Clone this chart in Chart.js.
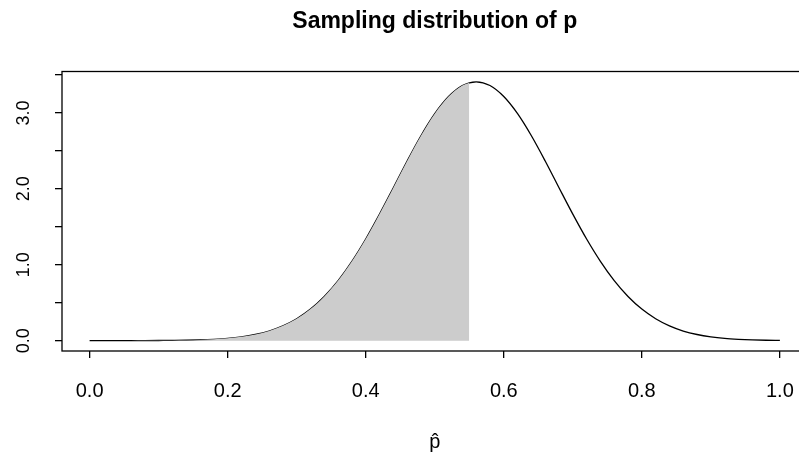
<!DOCTYPE html>
<html>
<head>
<meta charset="utf-8">
<script src="https://cdn.jsdelivr.net/npm/chart.js@4.4.0/dist/chart.umd.min.js"></script>
<style>
  html, body { margin: 0; padding: 0; background: #fff; overflow: hidden; width: 799px; height: 456px; }
  canvas { display: block; }
</style>
</head>
<body>
<canvas id="chart" width="810" height="456"></canvas>
<script>
// values
const pHat = [0.00, 0.02, 0.04, 0.06, 0.08, 0.10, 0.12, 0.14, 0.16, 0.18,
              0.20, 0.22, 0.24, 0.26, 0.28, 0.30, 0.32, 0.34, 0.36, 0.38,
              0.40, 0.42, 0.44, 0.46, 0.48, 0.50, 0.52, 0.54, 0.56, 0.58,
              0.60, 0.62, 0.64, 0.66, 0.68, 0.70, 0.72, 0.74, 0.76, 0.78,
              0.80, 0.82, 0.84, 0.86, 0.88, 0.90, 0.92, 0.94, 0.96, 0.98, 1.00];
const density = [0.000, 0.000, 0.000, 0.000, 0.001, 0.002, 0.003, 0.005, 0.010, 0.018,
                 0.030, 0.050, 0.081, 0.127, 0.195, 0.289, 0.416, 0.582, 0.791, 1.045,
                 1.339, 1.667, 2.015, 2.367, 2.699, 2.990, 3.216, 3.361, 3.410, 3.361,
                 3.216, 2.990, 2.699, 2.367, 2.015, 1.667, 1.339, 1.045, 0.791, 0.582,
                 0.416, 0.289, 0.195, 0.127, 0.081, 0.050, 0.030, 0.018, 0.010, 0.005, 0.003];
const cutoff = 0.55;
const cutoffDensity = 3.398;

const xTicks = [0, 0.2, 0.4, 0.6, 0.8, 1.0];
const xTickLabels = ['0.0', '0.2', '0.4', '0.6', '0.8', '1.0'];
const yTicks = [0, 0.5, 1, 1.5, 2, 2.5, 3, 3.5];
const yTickLabels = ['0.0', '', '1.0', '', '2.0', '', '3.0', ''];

const titleText = 'Sampling distribution of p';
const xTitle = 'p\u0302';

const curve = pHat.map((x, i) => ({ x, y: density[i] }));
const shade = curve.filter(pt => pt.x < cutoff);
shade.push({ x: cutoff, y: cutoffDensity });

const font = '"Liberation Sans", Arial, Helvetica, sans-serif';

// box, tick labels and titles, R style
const baseGraphics = {
  id: 'baseGraphics',
  afterDraw(chart) {
    const { ctx, chartArea: a, scales: { x, y } } = chart;
    ctx.save();
    ctx.strokeStyle = '#000';
    ctx.lineWidth = 1.3;
    ctx.strokeRect(a.left, a.top, a.right - a.left, a.bottom - a.top);

    ctx.fillStyle = '#000';
    ctx.textAlign = 'center';
    ctx.textBaseline = 'middle';
    ctx.font = '20px ' + font;
    xTicks.forEach((v, i) => ctx.fillText(xTickLabels[i], x.getPixelForValue(v), 391));

    ctx.font = '18px ' + font;
    yTicks.forEach((v, i) => {
      if (!yTickLabels[i]) return;
      ctx.save();
      ctx.translate(24, y.getPixelForValue(v));
      ctx.rotate(-Math.PI / 2);
      ctx.fillText(yTickLabels[i], 0, 0);
      ctx.restore();
    });

    const cx = (a.left + a.right) / 2;
    ctx.font = '20px ' + font;
    ctx.fillText(xTitle, cx, 442);

    ctx.font = 'bold 23px ' + font;
    ctx.fillText(titleText, cx, 22);
    ctx.restore();
  }
};

new Chart(document.getElementById('chart'), {
  type: 'line',
  data: {
    datasets: [
      {
        label: 'shaded',
        data: shade,
        borderWidth: 0,
        pointRadius: 0,
        backgroundColor: '#cccccc',
        fill: 'origin',
        cubicInterpolationMode: 'monotone'
      },
      {
        label: 'density',
        data: curve,
        borderColor: '#000',
        borderWidth: 1.3,
        pointRadius: 0,
        fill: false,
        cubicInterpolationMode: 'monotone'
      }
    ]
  },
  options: {
    responsive: false,
    animation: false,
    layout: { padding: { top: 71.5, right: 2.5, left: 0, bottom: 0 } },
    plugins: { legend: { display: false }, tooltip: { enabled: false } },
    scales: {
      x: {
        type: 'linear',
        min: -0.04,
        max: 1.04,
        afterBuildTicks: s => { s.ticks = xTicks.map(v => ({ value: v })); },
        afterFit: s => { s.height = 456 - 351; },
        grid: { drawOnChartArea: false, drawTicks: true, tickLength: 7, color: '#000', lineWidth: 1.3 },
        border: { display: false },
        ticks: { callback: () => '' }
      },
      y: {
        type: 'linear',
        min: -0.1364,
        max: 3.546,
        afterBuildTicks: s => { s.ticks = yTicks.map(v => ({ value: v })); },
        afterFit: s => { s.width = 62; },
        grid: { drawOnChartArea: false, drawTicks: true, tickLength: 7, color: '#000', lineWidth: 1.3 },
        border: { display: false },
        ticks: { callback: () => '' }
      }
    }
  },
  plugins: [baseGraphics]
});
</script>
</body>
</html>
